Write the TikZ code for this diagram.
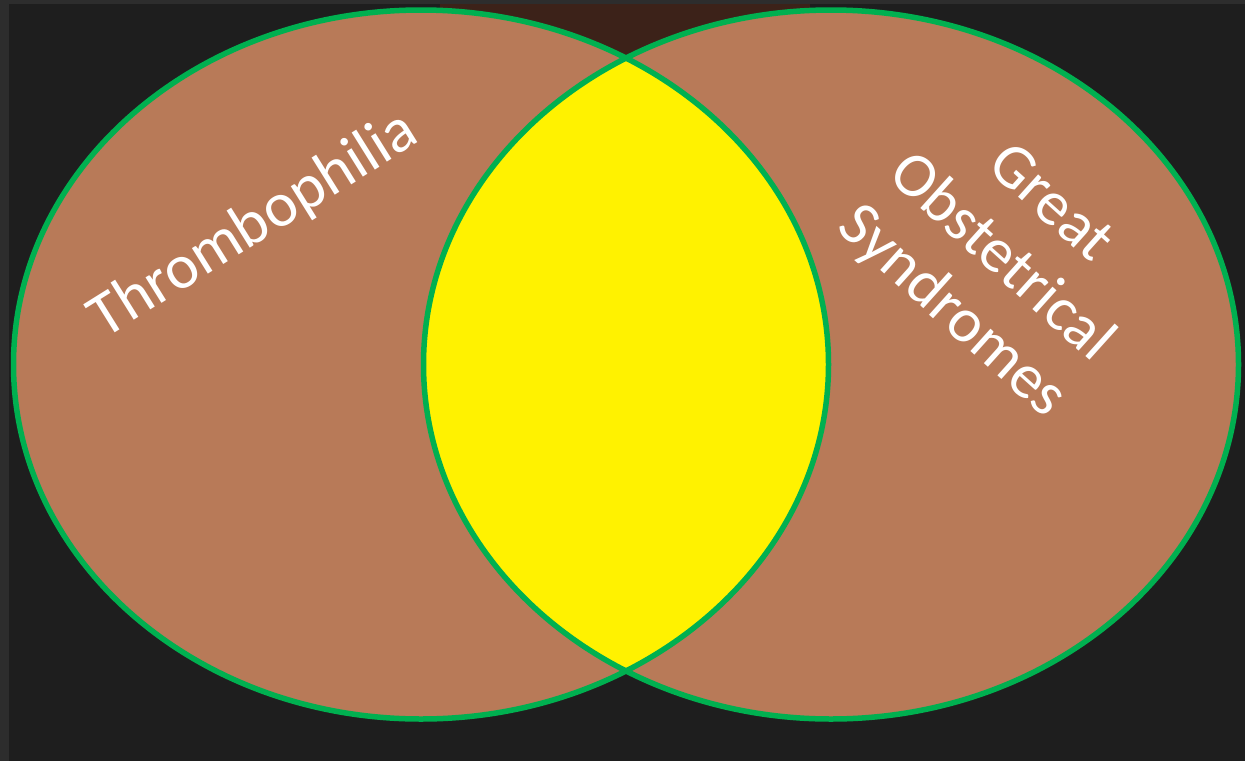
\documentclass[tikz,border=0pt]{standalone}
\usepackage{fontspec}
\setmainfont{Carlito}
\definecolor{bgdark}{HTML}{1E1E1E}
\definecolor{framegrey}{HTML}{2D2D2D}
\definecolor{darkbrown}{HTML}{3C2219}
\definecolor{setbrown}{HTML}{B87A58}
\definecolor{setgreen}{HTML}{00B050}
\definecolor{lensyellow}{HTML}{FFF200}
\tikzset{
  setfill/.style={fill=setbrown},
  setline/.style={draw=setgreen, line width=5.5pt},
  setlabel/.style={text=white, font=\fontsize{63}{73}\selectfont, inner sep=0pt, align=center}
}
\begin{document}
\begin{tikzpicture}[x=1pt,y=-1pt]
\useasboundingbox (0,0) rectangle (1245,761);
% backgrounds
\fill[framegrey] (0,0) rectangle (1245,761);
\fill[bgdark] (9,4) rectangle (1245,761);
\fill[darkbrown] (440,4) rectangle (810,110);
% sets
\path[setfill] (421,364.5) ellipse [x radius=407.5, y radius=354.5];
\path[setfill] (831,364.5) ellipse [x radius=407.5, y radius=354.5];
\begin{scope}
  \clip (421,364.5) ellipse [x radius=407.5, y radius=354.5];
  \fill[lensyellow] (831,364.5) ellipse [x radius=407.5, y radius=354.5];
\end{scope}
\path[setline] (421,364.5) ellipse [x radius=407.5, y radius=354.5];
\path[setline] (831,364.5) ellipse [x radius=407.5, y radius=354.5];
% labels
\node[setlabel, rotate=32, anchor=base] (thromb) at (263,240) {Thrombophilia};
\node[setlabel, rotate=-42, anchor=center] (gos) at (1000,259) {Great\\Obstetrical\\Syndromes};
\end{tikzpicture}
\end{document}
